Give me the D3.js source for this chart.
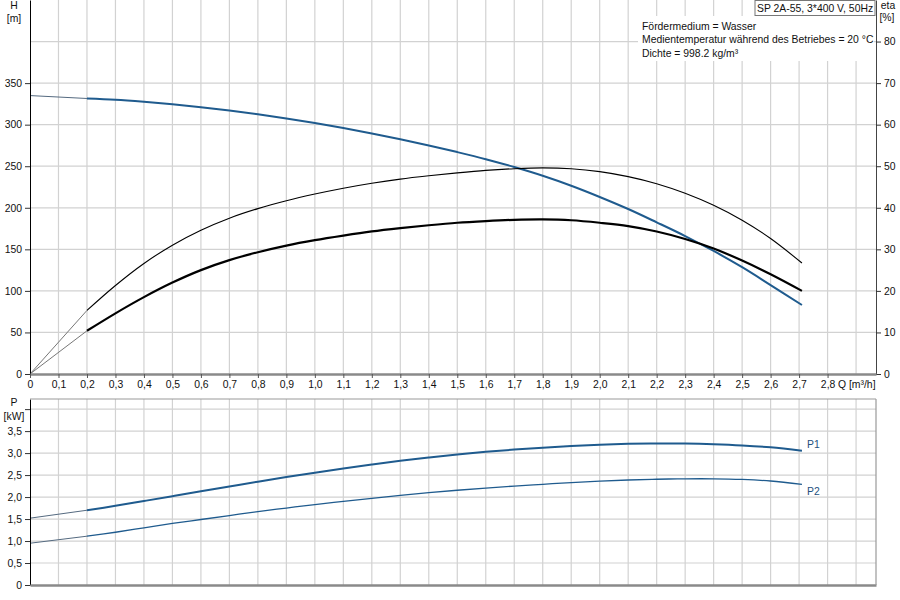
<!DOCTYPE html>
<html>
<head>
<meta charset="utf-8">
<script src="https://cdn.jsdelivr.net/npm/d3@7"></script>
<style>
body { margin: 0; background: #fff; }
text { font-family: "Liberation Sans", Arial, sans-serif; font-size: 10.4px; }
</style>
</head>
<body>
<script>
// values
var qPts  = [0, 0.2, 0.3, 0.4, 0.5, 0.6, 0.7, 0.8, 0.9, 1.0, 1.1, 1.2, 1.3, 1.4, 1.5, 1.6, 1.7, 1.8, 1.9, 2.0, 2.1, 2.2, 2.3, 2.4, 2.5, 2.6, 2.71];
var head  = [335, 331.5, 330, 327.5, 324.5, 321, 317, 312.5, 307.5, 302, 296, 289.5, 282.5, 275, 267, 258.5, 249, 238.5, 226.5, 213, 198.5, 182.5, 166, 148, 128.5, 107, 83];
var etaP  = [0, 15.3, 21.3, 26.6, 31.0, 34.6, 37.5, 39.8, 41.7, 43.3, 44.7, 45.9, 46.9, 47.7, 48.4, 49.0, 49.4, 49.6, 49.4, 48.7, 47.5, 45.8, 43.5, 40.6, 37.0, 32.6, 26.7];
var etaT  = [0, 10.4, 14.6, 18.5, 22.0, 25.0, 27.4, 29.3, 30.9, 32.2, 33.3, 34.3, 35.1, 35.8, 36.4, 36.8, 37.1, 37.2, 37.0, 36.4, 35.6, 34.3, 32.5, 30.2, 27.3, 24.0, 20.0];
var p1    = [1.52, 1.70, 1.80, 1.91, 2.02, 2.13, 2.24, 2.35, 2.455, 2.555, 2.65, 2.74, 2.825, 2.90, 2.97, 3.03, 3.08, 3.123, 3.16, 3.19, 3.21, 3.22, 3.218, 3.203, 3.175, 3.13, 3.055];
var p2    = [0.95, 1.11, 1.20, 1.30, 1.40, 1.49, 1.58, 1.67, 1.75, 1.83, 1.90, 1.97, 2.04, 2.10, 2.155, 2.205, 2.25, 2.29, 2.33, 2.362, 2.388, 2.405, 2.415, 2.415, 2.40, 2.365, 2.29];

var qTicks   = [0, 0.1, 0.2, 0.3, 0.4, 0.5, 0.6, 0.7, 0.8, 0.9, 1.0, 1.1, 1.2, 1.3, 1.4, 1.5, 1.6, 1.7, 1.8, 1.9, 2.0, 2.1, 2.2, 2.3, 2.4, 2.5, 2.6, 2.7, 2.8];
var qGrid    = [0.1, 0.2, 0.3, 0.4, 0.5, 0.6, 0.7, 0.8, 0.9, 1.0, 1.1, 1.2, 1.3, 1.4, 1.5, 1.6, 1.7, 1.8, 1.9, 2.0, 2.1, 2.2, 2.3, 2.4, 2.5, 2.6, 2.7, 2.8, 2.9];
var hTicks   = [0, 50, 100, 150, 200, 250, 300, 350];
var hGrid    = [50, 100, 150, 200, 250, 300, 350, 400];
var etaTicks = [0, 10, 20, 30, 40, 50, 60, 70, 80];
var pTicks   = [0, 0.5, 1.0, 1.5, 2.0, 2.5, 3.0, 3.5];
var pGrid    = [0.5, 1.0, 1.5, 2.0, 2.5, 3.0, 3.5, 4.0];

var infoLines = ['Fördermedium = Wasser', 'Medientemperatur während des Betriebes = 20 °C', 'Dichte = 998.2 kg/m³'];

var blue = '#1f5b8e';
var gridCol = '#d2d2d2';

var svg = d3.select('body').append('svg')
  .attr('width', 900)
  .attr('height', 600);

var x = d3.scaleLinear().domain([0, 2.97]).range([30, 876]);
var yH = d3.scaleLinear().domain([0, 450]).range([374, 0]);
var yEta = d3.scaleLinear().domain([0, 90]).range([374, 0]);
var yP = d3.scaleLinear().domain([0, 4.23]).range([585, 399]);

var comma = function(f){ return function(d){ return d === 0 ? '0' : d3.format(f)(d).replace('.', ','); }; };

// grid top
var gTop = svg.append('g');
gTop.selectAll('.vg').data(qGrid).enter().append('line')
  .attr('x1', function(d){return x(d)}).attr('x2', function(d){return x(d)})
  .attr('y1', yH.range()[1]).attr('y2', yH.range()[0])
  .attr('stroke', gridCol).attr('stroke-width', 1.2);
gTop.selectAll('.hg').data(hGrid).enter().append('line')
  .attr('x1', x.range()[0]).attr('x2', x.range()[1])
  .attr('y1', function(d){return yH(d)}).attr('y2', function(d){return yH(d)})
  .attr('stroke', gridCol).attr('stroke-width', 1.2);

// grid bottom
var gBot = svg.append('g');
gBot.selectAll('.vg').data(qGrid).enter().append('line')
  .attr('x1', function(d){return x(d)}).attr('x2', function(d){return x(d)})
  .attr('y1', yP.range()[1]).attr('y2', yP.range()[0])
  .attr('stroke', gridCol).attr('stroke-width', 1.2);
gBot.selectAll('.hg').data(pGrid).enter().append('line')
  .attr('x1', x.range()[0]).attr('x2', x.range()[1])
  .attr('y1', function(d){return yP(d)}).attr('y2', function(d){return yP(d)})
  .attr('stroke', gridCol).attr('stroke-width', 1.2);

// info block with white background
svg.append('rect').attr('x', 638).attr('y', 16).attr('width', 236).attr('height', 45).attr('fill', '#fff');
svg.selectAll('.info').data(infoLines).enter().append('text')
  .attr('x', 642).attr('y', function(d, i){return 30 + i * 13.3})
  .attr('fill', '#111').text(function(d){return d});

// curves
var mk = function(yScale, vals){
  return qPts.map(function(q, i){ return [x(q), yScale(vals[i])]; });
};
var smooth = d3.line().curve(d3.curveCatmullRom.alpha(0.5));
var straight = d3.line();

var curves = [
  {y: yH,   v: head, col: blue,   w: 2},
  {y: yEta, v: etaP, col: '#000', w: 1.1},
  {y: yEta, v: etaT, col: '#000', w: 2.2},
  {y: yP,   v: p1,   col: blue,   w: 2},
  {y: yP,   v: p2,   col: blue,   w: 1.3}
];
curves.forEach(function(c){
  var pts = mk(c.y, c.v);
  svg.append('path').attr('d', straight(pts.slice(0, 2)))
    .attr('fill', 'none').attr('stroke', c.col === '#000' ? '#777' : '#556a80').attr('stroke-width', 1);
  svg.append('path').attr('d', smooth(pts.slice(1)))
    .attr('fill', 'none').attr('stroke', c.col).attr('stroke-width', c.w);
});

// axes
var styleAxis = function(g){
  g.attr('font-family', null).attr('font-size', null);
  g.selectAll('text').attr('fill', '#111');
};

var axL = svg.append('g').attr('transform', 'translate(' + x.range()[0] + ',0)')
  .call(d3.axisLeft(yH).tickValues(hTicks).tickSize(5).tickSizeOuter(0).tickFormat(d3.format('d')).tickPadding(3));
styleAxis(axL);
axL.select('.domain').attr('stroke', '#000');
axL.selectAll('.tick line').attr('stroke', '#333');

var axR = svg.append('g').attr('transform', 'translate(' + x.range()[1] + ',0)')
  .call(d3.axisRight(yEta).tickValues(etaTicks).tickSize(5).tickSizeOuter(0).tickPadding(3));
styleAxis(axR);
axR.select('.domain').attr('stroke', '#444');
axR.selectAll('.tick line').attr('stroke', '#333');

var axB = svg.append('g').attr('transform', 'translate(0,' + yH.range()[0] + ')')
  .call(d3.axisBottom(x).tickValues(qTicks).tickSize(4).tickSizeOuter(0).tickFormat(comma('.1f')).tickPadding(3));
styleAxis(axB);
axB.select('.domain').attr('stroke', '#8a8a8a').attr('stroke-width', 2.5);
axB.selectAll('.tick line').attr('stroke', '#555');

var axPL = svg.append('g').attr('transform', 'translate(' + x.range()[0] + ',0)')
  .call(d3.axisLeft(yP).tickValues(pTicks.concat([4.0])).tickSize(5).tickSizeOuter(0).tickFormat(function(d){ return d === 4 ? '' : comma('.1f')(d); }).tickPadding(3));
styleAxis(axPL);
axPL.select('.domain').attr('stroke', '#000');
axPL.selectAll('.tick line').attr('stroke', '#333');

var axPB = svg.append('g').attr('transform', 'translate(0,' + yP.range()[0] + ')')
  .call(d3.axisBottom(x).tickValues([]).tickSizeOuter(0));
axPB.select('.domain').attr('stroke', '#8a8a8a').attr('stroke-width', 2.5);

// bottom frame top and right
svg.append('line').attr('x1', x.range()[0]).attr('x2', x.range()[1])
  .attr('y1', yP.range()[1]).attr('y2', yP.range()[1]).attr('stroke', '#999').attr('stroke-width', 1.2);
svg.append('line').attr('x1', x.range()[1]).attr('x2', x.range()[1])
  .attr('y1', yP.range()[1]).attr('y2', yP.range()[0]).attr('stroke', '#999').attr('stroke-width', 1.2);

// unit labels
var lab = function(tx, ty, t, anchor){
  svg.append('text').attr('x', tx).attr('y', ty).attr('text-anchor', anchor || 'middle').attr('fill', '#111').text(t);
};
lab(14, 9, 'H');
lab(14, 22, '[m]');
lab(888, 9, 'eta');
lab(887, 21, '[%]');
lab(14, 406, 'P');
lab(14, 420, '[kW]');
lab(838, 388, 'Q [m³/h]', 'start');

// title box
svg.append('rect').attr('x', 755).attr('y', 0.5).attr('width', 120).attr('height', 15)
  .attr('fill', '#fff').attr('stroke', '#777');
lab(757, 11.5, 'SP 2A-55, 3*400 V, 50Hz', 'start');

// power labels
svg.append('text').attr('x', 807).attr('y', yP(p1[p1.length - 1]) - 3).attr('fill', '#24507e').text('P1');
svg.append('text').attr('x', 807).attr('y', yP(p2[p2.length - 1]) + 11).attr('fill', '#24507e').text('P2');
</script>
</body>
</html>
